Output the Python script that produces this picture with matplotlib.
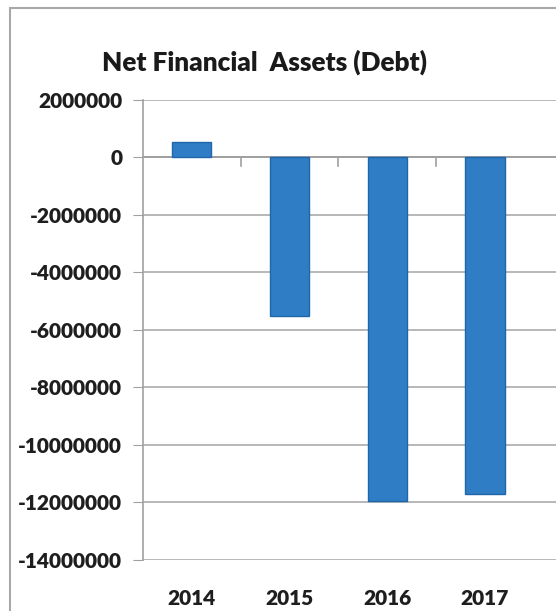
import matplotlib
matplotlib.use("Agg")
import matplotlib.pyplot as plt
from matplotlib.patches import Rectangle

# Net financial assets per year
years = ["2014", "2015", "2016", "2017"]
net_assets = [550000, -5500000, -11950000, -11700000]
y_ticks = [2000000, 0, -2000000, -4000000, -6000000, -8000000,
           -10000000, -12000000, -14000000]

plt.rcParams["font.family"] = ["Lato", "DejaVu Sans"]

fig = plt.figure(figsize=(5.56, 6.11), dpi=100)

# grey chart frame (cut off at the right and bottom)
fig.patches.append(Rectangle((10 / 556, -0.1), 1.2, 1.1 - 8 / 611,
                             transform=fig.transFigure, fill=False,
                             edgecolor="#a8a8a8", linewidth=1.5))

ax = fig.add_axes([143 / 556, 51 / 611, 1 - 143 / 556, 460 / 611])

x = list(range(len(years)))
ax.bar(x, net_assets, width=0.4, color="#2f7dc4", edgecolor="#1f66aa",
       linewidth=1.0, zorder=3)

ax.set_ylim(-14000000, 2000000)
ax.set_xlim(-0.5, 3.727)
ax.set_yticks(y_ticks)
ax.set_yticklabels([str(v) for v in y_ticks], fontsize=15, fontweight="heavy",
                   color="#1e1e1e")
ax.yaxis.grid(True, color="#ababab", linewidth=1.2, zorder=0)

# category labels sit at the bottom, tick marks on the zero line
ax.set_xticks([])
for i, yr in enumerate(years):
    ax.text(i, -14000000 - 1330000, yr, ha="center", va="center",
            fontsize=15, fontweight="heavy", color="#1e1e1e")
ax.axhline(0, color="#a0a0a0", linewidth=1.4, zorder=2)
for b in [0.5, 1.5, 2.5]:
    ax.plot([b, b], [0, -280000], color="#a0a0a0", linewidth=1.2, zorder=2)

for s in ["top", "right", "bottom"]:
    ax.spines[s].set_visible(False)
ax.spines["left"].set_color("#a0a0a0")
ax.spines["left"].set_linewidth(1.2)
ax.tick_params(axis="y", length=7, color="#a0a0a0", pad=8)

fig.text(264 / 556, 1 - 62 / 611, "Net Financial  Assets (Debt)",
         ha="center", va="center", fontsize=18.8, fontweight="heavy",
         color="#1a1a1a")

fig.savefig("out.png", dpi=100)
